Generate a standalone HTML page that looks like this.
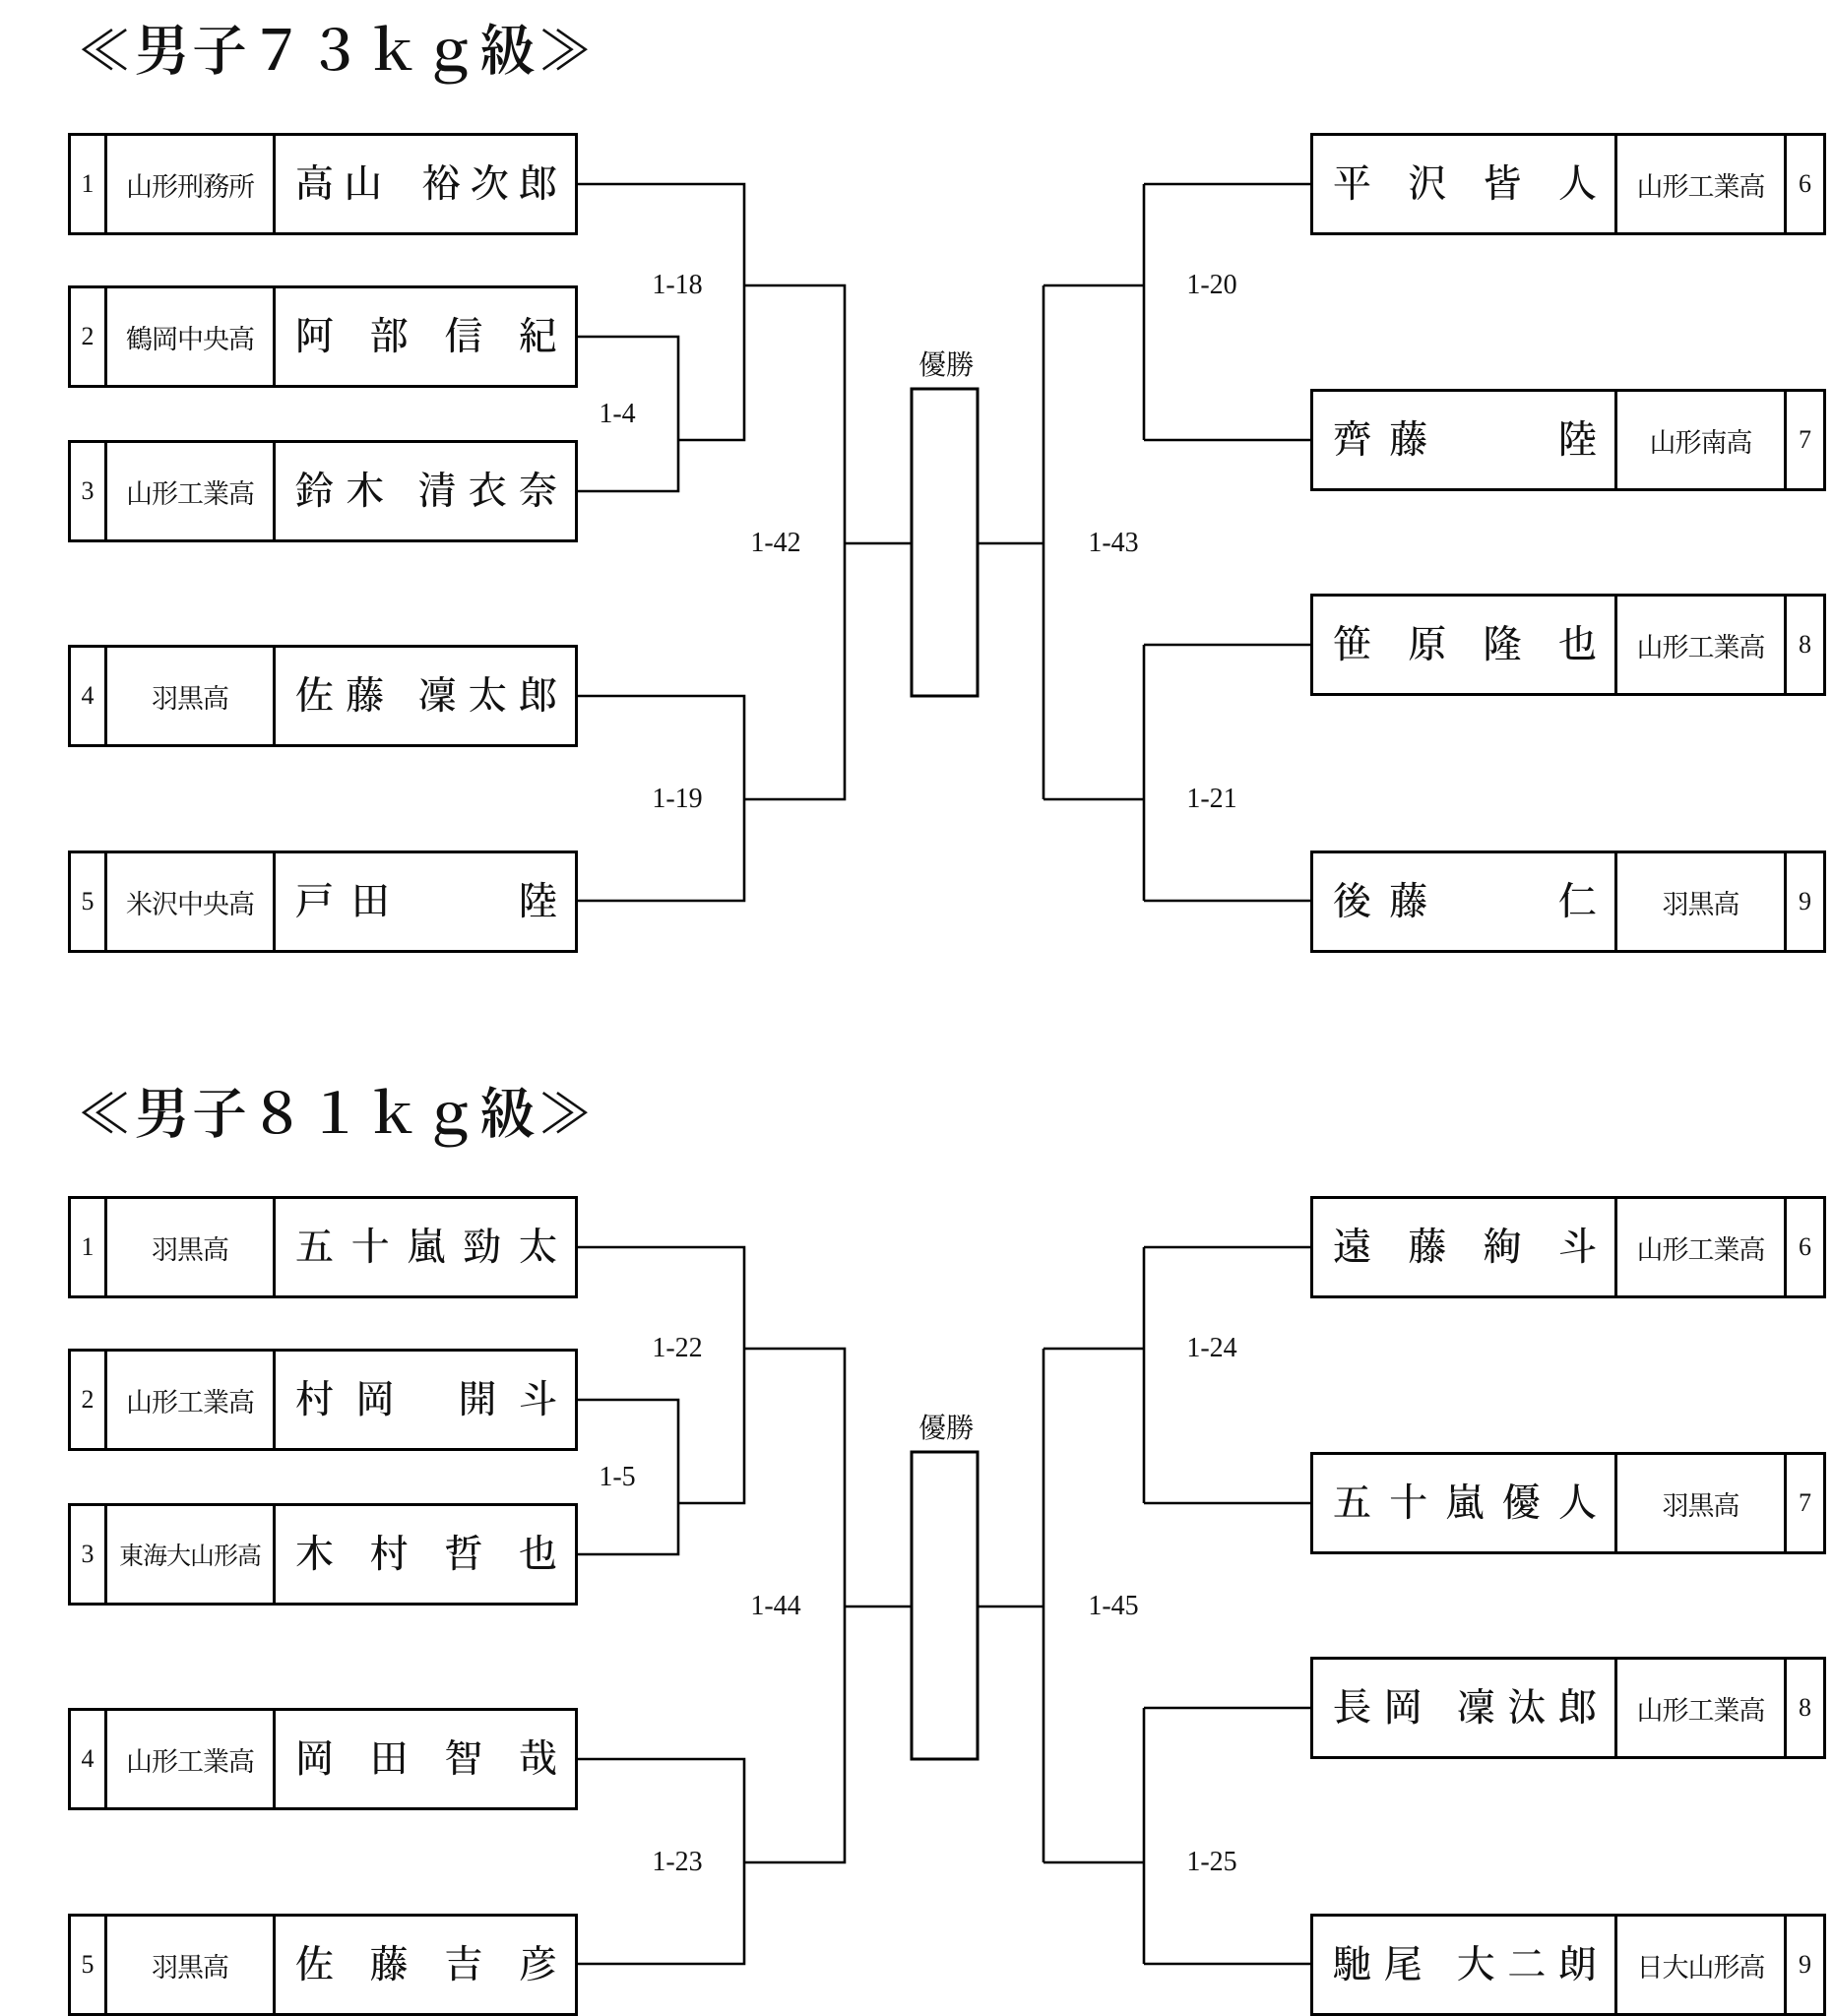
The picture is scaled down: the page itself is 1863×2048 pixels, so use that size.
<!DOCTYPE html>
<html><head><meta charset="utf-8"><style>
body{margin:0;background:#fff;}
#w{position:relative;width:1863px;height:2048px;overflow:hidden;font-family:"Liberation Serif","Noto Serif CJK JP","Noto Serif CJK SC",serif;color:#111}
.b{position:absolute;border:3px solid #000;box-sizing:border-box;display:flex;height:104px;background:#fff}
.b>div{box-sizing:border-box;display:flex;align-items:center;justify-content:center;height:100%}
.L .n{width:37px;border-right:3px solid #000;font-size:26px}
.L .s{width:171px;border-right:3px solid #000;font-size:27px;white-space:nowrap;letter-spacing:-1px}
.L .m{flex:1;padding:0 18px 6px 20px;justify-content:space-between!important;font-size:39px;font-weight:500}
.R .m{width:309px;border-right:3px solid #000;padding:0 18px 6px 20px;justify-content:space-between!important;font-size:39px;font-weight:500}
.R .s{width:172px;border-right:3px solid #000;font-size:27px;white-space:nowrap;letter-spacing:-1px}
.R .n{flex:1;font-size:26px}
.m span{display:inline-block;width:39px;text-align:center}
.t{position:absolute;font-size:56px;left:78px;white-space:nowrap;letter-spacing:2.5px;font-weight:600}
.lb{position:absolute;font-size:28px;transform:translate(-50%,-50%);white-space:nowrap}
svg{position:absolute;left:0;top:0}
</style></head><body><div id="w">
<svg width="1863" height="2048" fill="none" stroke="#000" stroke-width="2.6">
<g id="g1">
<path d="M587 187H756V447H689M587 342H689V499H587M756 290H858V812H756M587 707H756V915H587M858 552H926"/>
<rect x="926" y="395" width="67" height="312" stroke-width="3"/>
<path d="M993 552H1060M1060 290V812M1060 290H1162M1162 187V447M1162 187H1331M1162 447H1331M1060 812H1162M1162 655V915M1162 655H1331M1162 915H1331"/>
</g>
<g transform="translate(0,1080)">
<path d="M587 187H756V447H689M587 342H689V499H587M756 290H858V812H756M587 707H756V915H587M858 552H926"/>
<rect x="926" y="395" width="67" height="312" stroke-width="3"/>
<path d="M993 552H1060M1060 290V812M1060 290H1162M1162 187V447M1162 187H1331M1162 447H1331M1060 812H1162M1162 655V915M1162 655H1331M1162 915H1331"/>
</g>
</svg>

<div class="t" style="top:8px">≪男子７３ｋｇ級≫</div>
<div class="t" style="top:1088px">≪男子８１ｋｇ級≫</div>

<!-- 73kg left -->
<div class="b L" style="left:69px;top:135px;width:518px"><div class="n">1</div><div class="s">山形刑務所</div><div class="m"><span>高</span><span>山</span><span style="width:20px"></span><span>裕</span><span>次</span><span>郎</span></div></div>
<div class="b L" style="left:69px;top:290px;width:518px"><div class="n">2</div><div class="s">鶴岡中央高</div><div class="m"><span>阿</span><span>部</span><span>信</span><span>紀</span></div></div>
<div class="b L" style="left:69px;top:447px;width:518px"><div class="n">3</div><div class="s">山形工業高</div><div class="m"><span>鈴</span><span>木</span><span style="width:10px"></span><span>清</span><span>衣</span><span>奈</span></div></div>
<div class="b L" style="left:69px;top:655px;width:518px"><div class="n">4</div><div class="s">羽黒高</div><div class="m"><span>佐</span><span>藤</span><span style="width:10px"></span><span>凜</span><span>太</span><span>郎</span></div></div>
<div class="b L" style="left:69px;top:864px;width:518px"><div class="n">5</div><div class="s">米沢中央高</div><div class="m"><span>戸</span><span>田</span><span></span><span></span><span>陸</span></div></div>
<!-- 73kg right -->
<div class="b R" style="left:1331px;top:135px;width:524px"><div class="m"><span>平</span><span>沢</span><span>皆</span><span>人</span></div><div class="s">山形工業高</div><div class="n">6</div></div>
<div class="b R" style="left:1331px;top:395px;width:524px"><div class="m"><span>齊</span><span>藤</span><span></span><span></span><span>陸</span></div><div class="s">山形南高</div><div class="n">7</div></div>
<div class="b R" style="left:1331px;top:603px;width:524px"><div class="m"><span>笹</span><span>原</span><span>隆</span><span>也</span></div><div class="s">山形工業高</div><div class="n">8</div></div>
<div class="b R" style="left:1331px;top:864px;width:524px"><div class="m"><span>後</span><span>藤</span><span></span><span></span><span>仁</span></div><div class="s">羽黒高</div><div class="n">9</div></div>

<div class="lb" style="left:688px;top:290px">1-18</div>
<div class="lb" style="left:627px;top:421px">1-4</div>
<div class="lb" style="left:788px;top:552px">1-42</div>
<div class="lb" style="left:688px;top:812px">1-19</div>
<div class="lb" style="left:961px;top:369px">優勝</div>
<div class="lb" style="left:1131px;top:552px">1-43</div>
<div class="lb" style="left:1231px;top:290px">1-20</div>
<div class="lb" style="left:1231px;top:812px">1-21</div>

<!-- 81kg left -->
<div class="b L" style="left:69px;top:1215px;width:518px"><div class="n">1</div><div class="s">羽黒高</div><div class="m"><span>五</span><span>十</span><span>嵐</span><span>勁</span><span>太</span></div></div>
<div class="b L" style="left:69px;top:1370px;width:518px"><div class="n">2</div><div class="s">山形工業高</div><div class="m"><span>村</span><span>岡</span><span style="width:20px"></span><span>開</span><span>斗</span></div></div>
<div class="b L" style="left:69px;top:1527px;width:518px"><div class="n">3</div><div class="s" style="font-size:25px">東海大山形高</div><div class="m"><span>木</span><span>村</span><span>哲</span><span>也</span></div></div>
<div class="b L" style="left:69px;top:1735px;width:518px"><div class="n">4</div><div class="s">山形工業高</div><div class="m"><span>岡</span><span>田</span><span>智</span><span>哉</span></div></div>
<div class="b L" style="left:69px;top:1944px;width:518px"><div class="n">5</div><div class="s">羽黒高</div><div class="m"><span>佐</span><span>藤</span><span>吉</span><span>彦</span></div></div>
<!-- 81kg right -->
<div class="b R" style="left:1331px;top:1215px;width:524px"><div class="m"><span>遠</span><span>藤</span><span>絢</span><span>斗</span></div><div class="s">山形工業高</div><div class="n">6</div></div>
<div class="b R" style="left:1331px;top:1475px;width:524px"><div class="m"><span>五</span><span>十</span><span>嵐</span><span>優</span><span>人</span></div><div class="s">羽黒高</div><div class="n">7</div></div>
<div class="b R" style="left:1331px;top:1683px;width:524px"><div class="m"><span>長</span><span>岡</span><span style="width:10px"></span><span>凜</span><span>汰</span><span>郎</span></div><div class="s">山形工業高</div><div class="n">8</div></div>
<div class="b R" style="left:1331px;top:1944px;width:524px"><div class="m"><span>馳</span><span>尾</span><span style="width:10px"></span><span>大</span><span>二</span><span>朗</span></div><div class="s">日大山形高</div><div class="n">9</div></div>

<div class="lb" style="left:688px;top:1370px">1-22</div>
<div class="lb" style="left:627px;top:1501px">1-5</div>
<div class="lb" style="left:788px;top:1632px">1-44</div>
<div class="lb" style="left:688px;top:1892px">1-23</div>
<div class="lb" style="left:961px;top:1449px">優勝</div>
<div class="lb" style="left:1131px;top:1632px">1-45</div>
<div class="lb" style="left:1231px;top:1370px">1-24</div>
<div class="lb" style="left:1231px;top:1892px">1-25</div>
</div></body></html>
